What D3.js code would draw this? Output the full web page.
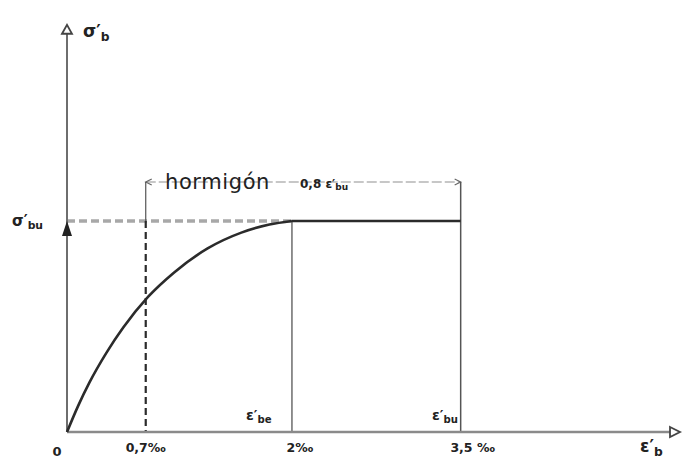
<!DOCTYPE html>
<html>
<head>
<meta charset="utf-8">
<script src="https://cdn.jsdelivr.net/npm/d3@7/dist/d3.min.js"></script>
<style>
  html, body { margin: 0; padding: 0; background: #fff; }
  svg text { font-family: "DejaVu Sans", sans-serif; fill: #222; }
</style>
</head>
<body>
<svg id="chart" width="683" height="464"></svg>
<script>
// Parabola–rectangle stress–strain diagram for concrete
// strain in per mille, stress as fraction of σ'bu
const strainCurve = [0, 0.1, 0.2, 0.35, 0.5, 0.72, 0.95, 1.25, 1.55, 1.8, 2.0];
const stressCurve = [0, 0.125, 0.235, 0.375, 0.495, 0.64, 0.755, 0.87, 0.945, 0.983, 1.0];
const plateauStrain = [2.0, 3.5];
const plateauStress = [1.0, 1.0];
const markStrains = [0.7, 2.0, 3.5];
const tickLabels = ["0,7‰", "2‰", "3,5 ‰"];

const svg = d3.select("#chart");
const x = d3.scaleLinear().domain([0, 5.45]).range([67, 680]);
const y = d3.scaleLinear().domain([0, 1]).range([432, 221]);
const yTop = 1.93;

const ink = "#2b2b2b";
const axisInk = "#6e6e6e";

// dashed reference line at σ'bu up to 2‰
svg.append("line")
  .attr("x1", x(0)).attr("x2", x(2)).attr("y1", y(1)).attr("y2", y(1))
  .attr("stroke", "#a8a8a8").attr("stroke-width", 3.5).attr("stroke-dasharray", "8,4");

// dimension line for 0,8 ε'bu
const dimY = y(1.185);
svg.append("line")
  .attr("x1", x(0.7)).attr("x2", x(3.5)).attr("y1", dimY).attr("y2", dimY)
  .attr("stroke", "#b5b5b5").attr("stroke-width", 1.6).attr("stroke-dasharray", "10,3");
[[x(0.7), 1], [x(3.5), -1]].forEach(([px, dir]) => {
  svg.append("path")
    .attr("d", `M${px + dir * 6},${dimY - 3} L${px},${dimY} L${px + dir * 6},${dimY + 3}`)
    .attr("fill", "none").attr("stroke", "#666").attr("stroke-width", 1.2);
});

// extension lines to the dimension line
svg.append("line")
  .attr("x1", x(0.7)).attr("x2", x(0.7)).attr("y1", dimY).attr("y2", y(1))
  .attr("stroke", "#555").attr("stroke-width", 1.2);
svg.append("line")
  .attr("x1", x(3.5)).attr("x2", x(3.5)).attr("y1", dimY).attr("y2", y(0))
  .attr("stroke", "#555").attr("stroke-width", 1.5);

// vertical at 2‰
svg.append("line")
  .attr("x1", x(2)).attr("x2", x(2)).attr("y1", y(1)).attr("y2", y(0))
  .attr("stroke", "#555").attr("stroke-width", 1.3);

// dashed vertical at 0,7‰
svg.append("line")
  .attr("x1", x(0.7)).attr("x2", x(0.7)).attr("y1", y(1)).attr("y2", y(0))
  .attr("stroke", ink).attr("stroke-width", 2.2).attr("stroke-dasharray", "7,4");

// axes
svg.append("line")
  .attr("x1", x(0)).attr("x2", x(0)).attr("y1", y(0)).attr("y2", y(yTop) + 8)
  .attr("stroke", axisInk).attr("stroke-width", 2);
svg.append("line")
  .attr("x1", x(0)).attr("x2", x(5.45) - 9).attr("y1", y(0)).attr("y2", y(0))
  .attr("stroke", "#8a8a8a").attr("stroke-width", 2.4);

// open arrowheads at axis ends
svg.append("path")
  .attr("d", `M${x(0) - 5},${y(yTop) + 9} L${x(0)},${y(yTop)} L${x(0) + 5},${y(yTop) + 9} Z`)
  .attr("fill", "#fff").attr("stroke", "#444").attr("stroke-width", 1.8);
svg.append("path")
  .attr("d", `M${x(5.45) - 10},${y(0) - 5} L${x(5.45)},${y(0)} L${x(5.45) - 10},${y(0) + 5} Z`)
  .attr("fill", "#fff").attr("stroke", "#444").attr("stroke-width", 1.8);

// filled arrow marking σ'bu on the stress axis
svg.append("path")
  .attr("d", `M${x(0)},${y(1)} L${x(0) + 5},${y(1) + 15} L${x(0) - 5},${y(1) + 15} Z`)
  .attr("fill", "#222");

// parabola
const pts = strainCurve.map((e, i) => [e, stressCurve[i]]);
svg.append("path")
  .datum(pts)
  .attr("d", d3.line().x(d => x(d[0])).y(d => y(d[1])).curve(d3.curveMonotoneX))
  .attr("fill", "none").attr("stroke", ink).attr("stroke-width", 2.6);

// rectangle plateau
svg.append("path")
  .datum(plateauStrain.map((e, i) => [e, plateauStress[i]]))
  .attr("d", d3.line().x(d => x(d[0])).y(d => y(d[1])))
  .attr("fill", "none").attr("stroke", ink).attr("stroke-width", 2.6);

// labels with subscript helper
function sym(px, py, base, sub, size, anchor) {
  const t = svg.append("text").attr("x", px).attr("y", py)
    .attr("font-size", size).attr("font-weight", "bold")
    .attr("text-anchor", anchor || "start");
  t.append("tspan").text(base + "\u2032");
  t.append("tspan").attr("font-size", size * 0.72).attr("dy", size * 0.22).text(sub);
  return t;
}

sym(83, 37, "σ", "b", 17);
sym(12, 226, "σ", "bu", 15);
sym(640, 452, "ε", "b", 17);
sym(246, 420, "ε", "be", 14);
sym(432, 420, "ε", "bu", 14);

svg.append("text").attr("x", 57).attr("y", 456).attr("font-size", 13)
  .attr("font-weight", "bold").attr("text-anchor", "middle").text("0");

const tickOffsets = [0, 8, 12];
markStrains.forEach((m, i) => {
  svg.append("text")
    .attr("x", x(m) + tickOffsets[i]).attr("y", 452)
    .attr("font-size", 12.5).attr("font-weight", "bold")
    .attr("text-anchor", "middle").text(tickLabels[i]);
});

svg.append("text").attr("x", 165).attr("y", 189)
  .attr("font-size", 21).attr("letter-spacing", 0.6).attr("fill", "#1e1e1e")
  .text("hormigón");

const dl = svg.append("text").attr("x", 300).attr("y", 188)
  .attr("font-size", 12).attr("font-weight", "bold");
dl.append("tspan").text("0,8 ε\u2032");
dl.append("tspan").attr("font-size", 9).attr("dy", 2).text("bu");
</script>
</body>
</html>
